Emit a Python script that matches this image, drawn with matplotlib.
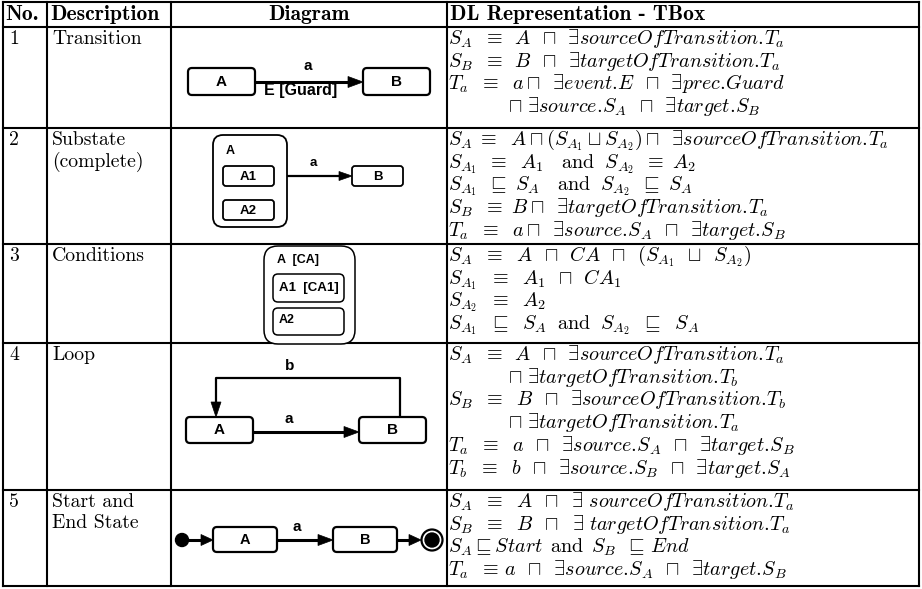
import matplotlib
matplotlib.use('Agg')
import matplotlib.pyplot as plt
from matplotlib.patches import FancyBboxPatch, Polygon, Circle

plt.rcParams['mathtext.fontset'] = 'cm'

# table content
headers = ['No.', 'Description', 'Diagram', 'DL Representation - TBox']
numbers = ['1', '2', '3', '4', '5']
descriptions = [['Transition'], ['Substate', '(complete)'], ['Conditions'],
                ['Loop'], ['Start and', 'End State']]

# '~' is a math space, '.\!' keeps the dot tight like in LaTeX
dl_transition = [
    r'$S_A~\;\equiv~\,A~\,\sqcap~\,\exists sourceOfTransition.\!T_a$',
    r'$S_B~\;\equiv~\,B~\,\sqcap~\,\exists targetOfTransition.\!T_a$',
    r'$T_a~\;\equiv~\;a\sqcap~\,\exists event.\!E~\,\sqcap~\,\exists prec.\!Guard$',
    r'$\sqcap~\exists source.\!S_A~\,\sqcap~\,\exists target.\!S_B$',
]
dl_substate = [
    r'$S_A\;\equiv~\;A\sqcap(S_{A_1}\sqcup S_{A_2})\sqcap~\,\exists sourceOfTransition.\!T_a$',
    r'$S_{A_1}~\,\equiv~\;A_1\quad\mathrm{and}~\;S_{A_2}~\,\equiv~A_2$',
    r'$S_{A_1}~\,\sqsubseteq~S_A\quad\mathrm{and}~\;S_{A_2}~\,\sqsubseteq~S_A$',
    r'$S_B~\;\equiv~B\sqcap~\,\exists targetOfTransition.\!T_a$',
    r'$T_a~\;\equiv~\;a\sqcap~\,\exists source.\!S_A~\,\sqcap~\,\exists target.\!S_B$',
]
dl_conditions = [
    r'$S_A~\;\equiv~\;A~\,\sqcap~\,CA~\,\sqcap~\,(S_{A_1}~\,\sqcup~\,S_{A_2})$',
    r'$S_{A_1}~\;\equiv~\;A_1~\,\sqcap~\,CA_1$',
    r'$S_{A_2}~\;\equiv~\;A_2$',
    r'$S_{A_1}~\;\sqsubseteq~\;S_A~\;\mathrm{and}~\;S_{A_2}~\;\sqsubseteq~\;S_A$',
]
dl_loop = [
    r'$S_A~\;\equiv~\,A~\,\sqcap~\,\exists sourceOfTransition.\!T_a$',
    r'$\sqcap~\exists targetOfTransition.\!T_b$',
    r'$S_B~\;\equiv~\;B~\,\sqcap~\,\exists sourceOfTransition.\!T_b$',
    r'$\sqcap~\exists targetOfTransition.\!T_a$',
    r'$T_a~\;\equiv~\;a~\,\sqcap~\,\exists source.\!S_A~\,\sqcap~\,\exists target.\!S_B$',
    r'$T_b~\;\equiv~\;b~\,\sqcap~\,\exists source.\!S_B~\,\sqcap~\,\exists target.\!S_A$',
]
dl_start_end = [
    r'$S_A~\;\equiv~\;A~\,\sqcap~\;\exists~sourceOfTransition.\!T_a$',
    r'$S_B~\;\equiv~\;B~\,\sqcap~\;\exists~targetOfTransition.\!T_a$',
    r'$S_A\sqsubseteq Start~\,\mathrm{and}~\,S_B~\,\sqsubseteq\,End$',
    r'$T_a~\;\equiv\,a~\,\sqcap~\,\exists source.\!S_A~\,\sqcap~\,\exists target.\!S_B$',
]
dl_rows = [dl_transition, dl_substate, dl_conditions, dl_loop, dl_start_end]

# layout (pixels)
col_x = [3, 47, 171, 447, 919]
row_y = [2, 27, 128, 244, 343, 490, 586]
line_h = 22.7
FS = 14.2      # roman text
FS_MATH = 14.5
FS_HEAD = 15.5
SANS = 'Liberation Sans'

fig = plt.figure(figsize=(9.22, 5.89), dpi=100)
ax = fig.add_axes([0, 0, 1, 1])
ax.set_xlim(0, 922)
ax.set_ylim(589, 0)
ax.axis('off')


def box(x0, y0, x1, y1, r=4, lw=1.6, label=None, fs=11):
    p = FancyBboxPatch((x0, y0), x1 - x0, y1 - y0,
                       boxstyle='round,pad=0,rounding_size=%g' % r,
                       fc='white', ec='black', lw=lw, zorder=3)
    ax.add_patch(p)
    if label:
        ax.text((x0 + x1) / 2, (y0 + y1) / 2 + 0.5, label, ha='center', va='center',
                family=SANS, fontweight='bold', fontsize=fs, zorder=4)


def arrow(pts, lw=2.2, hl=15, hw=5.5):
    # polyline ending with a filled head at the last point
    (xa, ya), (xb, yb) = pts[-2], pts[-1]
    dx, dy = xb - xa, yb - ya
    d = (dx ** 2 + dy ** 2) ** 0.5
    ux, uy = dx / d, dy / d
    bx, by = xb - ux * hl, yb - uy * hl
    xs = [p[0] for p in pts[:-1]] + [bx]
    ys = [p[1] for p in pts[:-1]] + [by]
    ax.plot(xs, ys, color='black', lw=lw, solid_capstyle='butt', zorder=2)
    head = Polygon([(xb, yb), (bx - uy * hw, by + ux * hw), (bx + uy * hw, by - ux * hw)],
                   closed=True, fc='black', ec='black', lw=0.5, zorder=2)
    ax.add_patch(head)


def label(x, y, s, fs=11):
    ax.text(x, y, s, ha='center', va='center', family=SANS, fontweight='bold',
            fontsize=fs, zorder=4)


# grid
for x in col_x:
    ax.plot([x, x], [row_y[0], row_y[-1]], color='black', lw=1.5)
for y in row_y:
    ax.plot([col_x[0], col_x[-1]], [y, y], color='black', lw=1.5)

# header
ax.text(5, 20, headers[0], family='cmb10', fontsize=FS_HEAD)
ax.text(col_x[1] + 3, 20, headers[1], family='cmb10', fontsize=FS_HEAD)
ax.text((col_x[2] + col_x[3]) / 2, 20, headers[2], family='cmb10', fontsize=FS_HEAD,
        ha='center')
ax.text(col_x[3] + 3, 20, headers[3], family='cmb10', fontsize=FS_HEAD)

# rows
for i in range(len(numbers)):
    base = row_y[i + 1] + 17
    ax.text(col_x[0] + 6, base, numbers[i], family='cmr10', fontsize=FS)
    for j, d in enumerate(descriptions[i]):
        ax.text(col_x[1] + 5, base + j * 21.5, d, family='cmr10', fontsize=FS)
    for j, s in enumerate(dl_rows[i]):
        x = col_x[3] + 1
        if s.startswith(r'$\sqcap'):
            x += 60
        ax.text(x, base + j * line_h, s, fontsize=FS_MATH)

# diagram 1: transition
box(188, 68, 255, 95, label='A')
box(363, 68, 430, 95, label='B')
arrow([(255, 82), (363, 82)])
label(308, 66, 'a')
label(301, 90, 'E [Guard]', fs=11.5)

# diagram 2: substate
box(213, 135, 287, 227, r=10, lw=1.3)
ax.text(226, 151, 'A', family=SANS, fontweight='bold', fontsize=9, va='center', zorder=4)
box(223, 166, 274, 186, r=3, lw=1.3, label='A1', fs=9.5)
box(223, 200, 274, 220, r=3, lw=1.3, label='A2', fs=9.5)
box(352, 166, 403, 186, r=3, lw=1.3, label='B', fs=9.5)
arrow([(287, 176), (352, 176)], lw=1.6, hl=13, hw=4.5)
label(313, 163, 'a', fs=9.5)

# diagram 3: conditions
box(264, 246, 355, 344, r=14, lw=1.1)
ax.text(277, 260, 'A  [CA]', family=SANS, fontweight='bold', fontsize=9, va='center', zorder=4)
box(273, 274, 344, 302, r=5, lw=1.1, label='A1  [CA1]', fs=9.5)
box(273, 308, 344, 335, r=5, lw=1.1)
ax.text(279, 320, 'A2', family=SANS, fontweight='bold', fontsize=9, va='center', zorder=4)

# diagram 4: loop
box(186, 417, 253, 443, label='A')
box(359, 417, 426, 443, label='B')
arrow([(253, 432), (359, 432)])
label(289, 419, 'a')
arrow([(400, 417), (400, 378), (216, 378), (216, 417)], lw=1.6, hl=15, hw=5)
label(290, 366, 'b')

# diagram 5: start and end
ax.add_patch(Circle((182, 540), 6.5, fc='black', ec='black', zorder=3))
arrow([(186, 540), (213, 540)], lw=2.2, hl=12, hw=5.5)
box(213, 527, 277, 552, label='A', fs=10.5)
box(333, 527, 397, 552, label='B', fs=10.5)
arrow([(277, 540), (333, 540)])
label(297, 527, 'a')
arrow([(397, 540), (421, 540)], lw=2.2, hl=12, hw=5.5)
ax.add_patch(Circle((432, 540), 10.5, fc='white', ec='black', lw=1.6, zorder=3))
ax.add_patch(Circle((432, 540), 7, fc='black', ec='black', zorder=3))

fig.savefig('out.png', dpi=100)
